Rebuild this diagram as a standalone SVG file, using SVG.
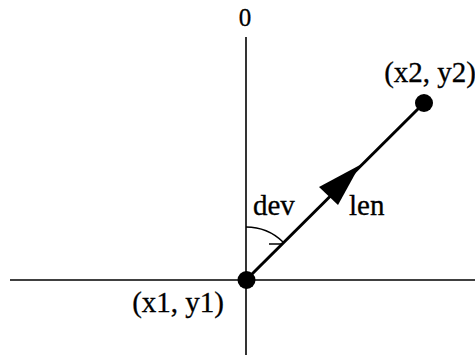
<svg xmlns="http://www.w3.org/2000/svg" width="475" height="355" viewBox="0 0 475 355">
<style>
.axis{stroke:#000;stroke-width:1.6;fill:none}
.vec{stroke:#000;stroke-width:3;fill:none}
.thin{stroke:#000;stroke-width:1.5;fill:none}
.pt{fill:#000}
text{font-family:"Liberation Serif","Times New Roman",serif;font-size:29px;fill:#000;stroke:#000;stroke-width:0.3}
.zero{font-size:25px}
</style>
<rect width="475" height="355" fill="#fff"/>
<g id="connectors">
<line class="axis" x1="246" y1="37" x2="246" y2="355"/>
<line class="axis" x1="10" y1="280" x2="475" y2="280"/>
<line class="vec" x1="246" y1="280" x2="424" y2="103"/>
<polygon class="pt" points="360,165 319,187 338,205"/>
<path class="thin" d="M246,227 A53,53 0 0 1 283,242"/>
<line class="thin" x1="269" y1="244" x2="283" y2="244"/>
</g>
<g id="origin">
<circle class="pt" cx="246.5" cy="280" r="9"/>
<text x="224" y="312" text-anchor="end">(x1, y1)</text>
</g>
<g id="end">
<circle class="pt" cx="424" cy="103" r="9"/>
<text x="476" y="82" text-anchor="end">(x2, y2)</text>
</g>
<g id="labels">
<text class="zero" x="245" y="26" text-anchor="middle">0</text>
<text x="253" y="215">dev</text>
<text x="349" y="215">len</text>
</g>
</svg>
